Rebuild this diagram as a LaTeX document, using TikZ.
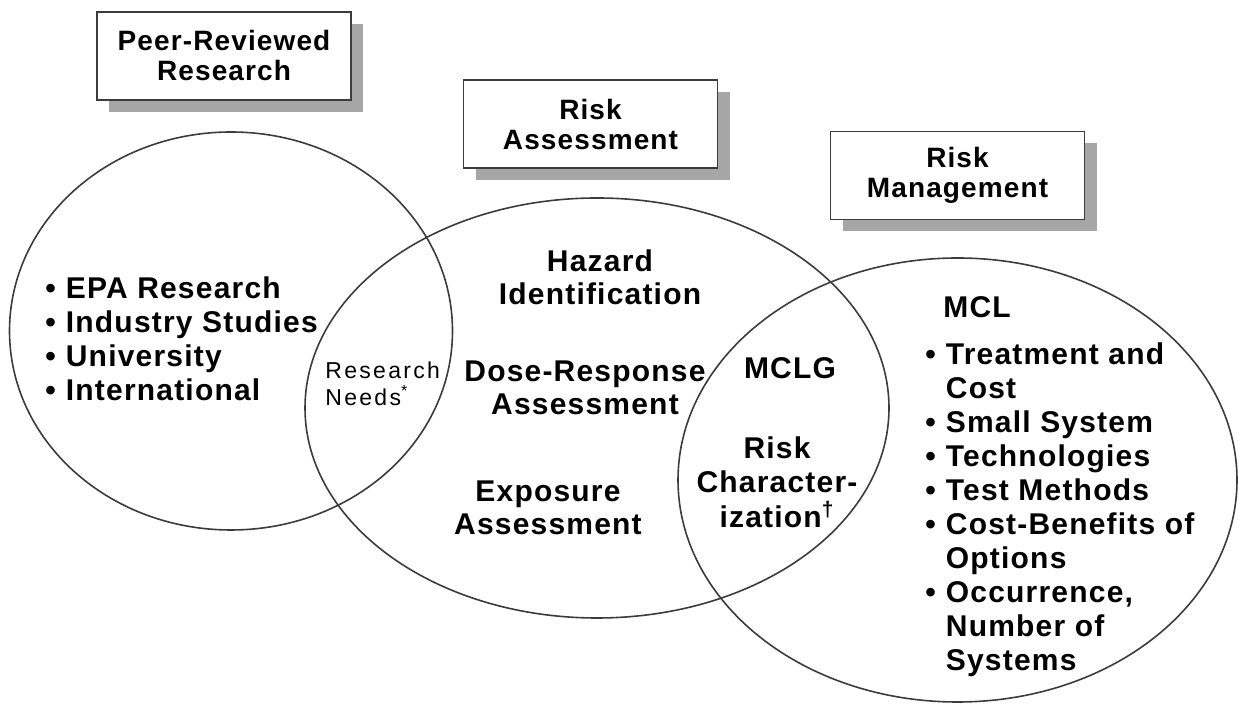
\documentclass[tikz,border=0pt]{standalone}
\usepackage{fontspec}
\setmainfont{Liberation Sans}
\newfontfamily\bfont[LetterSpace=4]{Liberation Sans Bold}
\newfontfamily\rfont[LetterSpace=10]{Liberation Sans}
\usetikzlibrary{shapes.geometric}
\definecolor{lineg}{HTML}{3C3C3C}
\definecolor{shadowg}{HTML}{A6A6A6}
\newcommand{\bul}{•\hspace{5pt}}
\newcommand{\nobul}{\phantom{•}\hspace{5pt}}
\begin{document}
\begin{tikzpicture}[x=0.5pt,y=-0.5pt,
  venn/.style={draw=lineg, line width=0.8pt, ellipse, inner sep=0pt},
  titlebox/.style={draw=lineg, line width=0.8pt, fill=white, inner sep=0pt,
    minimum width=127pt, minimum height=44pt, align=center,
    font=\bfont\fontsize{14pt}{15pt}\selectfont},
  shadowbox/.style={fill=shadowg, inner sep=0pt, minimum width=127pt, minimum height=44pt},
  lbl/.style={inner sep=0pt, align=center, font=\bfont\fontsize{15pt}{16.5pt}\selectfont},
  lst/.style={inner sep=0pt, align=left, anchor=west, font=\bfont\fontsize{15pt}{17pt}\selectfont},
  small/.style={inner sep=0pt, align=left, anchor=west, font=\rfont\fontsize{11.5pt}{13.5pt}\selectfont},
]
\useasboundingbox (0,0) rectangle (1238,704);
\fill[white] (0,0) rectangle (1238,704);

% shadows
\node[shadowbox] (s1) at (236,68) {};
\node[shadowbox] (s2) at (602.5,136) {};
\node[shadowbox] (s3) at (969.5,187.5) {};

% title boxes
\node[titlebox] (b1) at (224,56) {Peer-Reviewed\\Research};
\node[titlebox] (b2) at (590.5,124) {Risk\\Assessment};
\node[titlebox] (b3) at (957.5,175.5) {Risk\\Management};

% ellipses
\node[venn, minimum width=221.5pt, minimum height=199pt] (e1) at (231,331) {};
\node[venn, minimum width=292pt, minimum height=210pt] (e2) at (597,408) {};
\node[venn, minimum width=279.5pt, minimum height=222pt] (e3) at (957.5,480) {};

% left list
\node[lst] (l1) at (45,338.5) {\bul EPA Research\\\bul Industry Studies\\\bul University\\\bul International};
\node[small] (rn) at (325,383.5) {Research\\Needs\textsuperscript{*}};

% middle
\node[lbl] (hz) at (600,277.5) {Hazard\\Identification};
\node[lbl] (dr) at (585,387.5) {Dose-Response\\Assessment};
\node[lbl] (ex) at (548,507.5) {Exposure\\Assessment};

% intersection right
\node[lbl] (mclg) at (790,368) {MCLG};
\node[lbl, font=\bfont\fontsize{15pt}{17.25pt}\selectfont] (rc) at (777,482) {Risk\\Character-\\ization\textsuperscript{†}};

% right list
\node[lst] (mcl) at (943,307) {MCL};
\node[lst] (r1) at (925,509.5) {\bul Treatment and\\\nobul Cost\\\bul Small System\\\bul Technologies\\\bul Test Methods\\\bul Cost-Benefits of\\\nobul Options\\\bul Occurrence,\\\nobul Number of\\\nobul Systems};
\end{tikzpicture}
\end{document}
